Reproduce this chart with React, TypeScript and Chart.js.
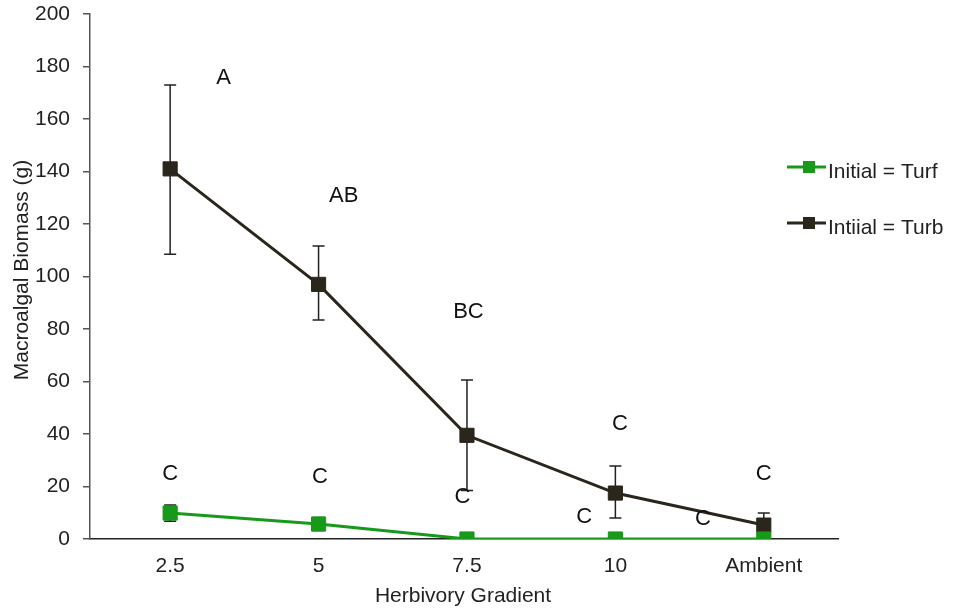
import React, { useEffect, useRef } from "react";
import { Chart, registerables } from "chart.js";

Chart.register(...registerables);

// Herbivory treatments along the x axis
const categories = ["2.5", "5", "7.5", "10", "Ambient"];

// Mean macroalgal biomass (g) with error bar bounds
const turfMeans = [9.9, 5.7, 0, 0, 0];
const turfLower = [6.8, 3.2, 0, 0, 0];
const turfUpper = [13, 8.2, 0, 0, 0];

const turbMeans = [141, 97, 39.5, 17.5, 5.3];
const turbLower = [108.5, 83.4, 18.5, 8, 1.5];
const turbUpper = [173, 111.6, 60.6, 27.8, 9.9];

// Significance letters: x position (in category units), y value, text
const letterX = [0.36, 1.17, 2.01, 3.03, 4.0, 0.0, 1.01, 1.97, 2.79, 3.59];
const letterY = [175.6, 130.6, 86.5, 43.8, 24.8, 24.8, 23.6, 16, 8.4, 7.6];
const letterText = ["A", "AB", "BC", "C", "C", "C", "C", "C", "C", "C"];

const yTicks = [0, 20, 40, 60, 80, 100, 120, 140, 160, 180, 200];

const GREEN = "#17991a";
const DARK = "#2a261b";
const FONT = "'Liberation Sans', Arial, Helvetica, sans-serif";

const errorBarPlugin = {
  id: "errorBars",
  beforeDatasetsDraw(chart: any) {
    const { ctx, scales } = chart;
    const x = scales.x;
    const y = scales.y;
    const sets = [
      { lo: turfLower, hi: turfUpper },
      { lo: turbLower, hi: turbUpper },
    ];
    ctx.save();
    ctx.strokeStyle = "#222";
    ctx.lineWidth = 1.5;
    sets.forEach((s) => {
      s.lo.forEach((lo, i) => {
        const hi = s.hi[i];
        if (hi - lo <= 0) return;
        const px = x.getPixelForValue(i);
        const py1 = y.getPixelForValue(lo);
        const py2 = y.getPixelForValue(hi);
        ctx.beginPath();
        ctx.moveTo(px, py1);
        ctx.lineTo(px, py2);
        ctx.moveTo(px - 6, py1);
        ctx.lineTo(px + 6, py1);
        ctx.moveTo(px - 6, py2);
        ctx.lineTo(px + 6, py2);
        ctx.stroke();
      });
    });
    ctx.restore();
  },
};

const annotationPlugin = {
  id: "annotations",
  afterDatasetsDraw(chart: any) {
    const { ctx, scales, chartArea } = chart;
    const x = scales.x;
    const y = scales.y;
    ctx.save();

    // significance letters
    ctx.fillStyle = "#111";
    ctx.font = `22px ${FONT}`;
    ctx.textAlign = "center";
    ctx.textBaseline = "middle";
    letterText.forEach((t, i) => {
      ctx.fillText(t, x.getPixelForValue(letterX[i]), y.getPixelForValue(letterY[i]));
    });

    // axis titles
    ctx.fillStyle = "#222";
    ctx.font = `21px ${FONT}`;
    ctx.textBaseline = "alphabetic";
    ctx.fillText("Herbivory Gradient", (chartArea.left + chartArea.right) / 2 - 1, 602);
    ctx.save();
    ctx.translate(28, 270);
    ctx.rotate(-Math.PI / 2);
    ctx.fillText("Macroalgal Biomass (g)", 0, 0);
    ctx.restore();

    // legend
    const items = [
      { label: "Initial = Turf", color: GREEN, y: 167 },
      { label: "Intiial = Turb", color: DARK, y: 223 },
    ];
    items.forEach((it) => {
      ctx.strokeStyle = it.color;
      ctx.lineWidth = 3;
      ctx.beginPath();
      ctx.moveTo(787, it.y);
      ctx.lineTo(826, it.y);
      ctx.stroke();
      ctx.fillStyle = it.color;
      ctx.fillRect(803, it.y - 6, 12, 12);
      ctx.fillStyle = "#222";
      ctx.font = `21px ${FONT}`;
      ctx.textAlign = "left";
      ctx.textBaseline = "middle";
      ctx.fillText(it.label, 828, it.y + 5);
    });
    ctx.restore();
  },
};

export default function App() {
  const canvasRef = useRef<HTMLCanvasElement | null>(null);

  useEffect(() => {
    if (!canvasRef.current) return;
    const chart = new Chart(canvasRef.current, {
      type: "line",
      data: {
        datasets: [
          {
            label: "Initial = Turf",
            data: turfMeans.map((v, i) => ({ x: i, y: v })),
            borderColor: GREEN,
            backgroundColor: GREEN,
            borderWidth: 3,
            pointStyle: "rect",
            pointRadius: 10,
            pointBorderWidth: 1,
            pointBorderColor: GREEN,
            tension: 0,
          },
          {
            label: "Intiial = Turb",
            data: turbMeans.map((v, i) => ({ x: i, y: v })),
            borderColor: DARK,
            backgroundColor: DARK,
            borderWidth: 3,
            pointStyle: "rect",
            pointRadius: 10,
            pointBorderWidth: 1,
            pointBorderColor: DARK,
            tension: 0,
          },
        ],
      },
      options: {
        animation: false,
        responsive: true,
        maintainAspectRatio: false,
        layout: { padding: { top: 14, right: 115, bottom: 0, left: 0 } },
        plugins: {
          legend: { display: false },
          tooltip: { enabled: false },
        },
        scales: {
          x: {
            type: "linear",
            min: -0.54,
            max: 4.5,
            afterBuildTicks: (s: any) => {
              s.ticks = categories.map((_, i) => ({ value: i }));
            },
            afterFit: (s: any) => {
              s.height = 74;
              s.paddingLeft = 0;
              s.paddingRight = 0;
            },
            grid: { display: false, drawTicks: false },
            border: { display: true, color: "#222", width: 1.5 },
            ticks: {
              padding: 15,
              color: "#222",
              font: { family: FONT, size: 21 },
              callback: (v: any) => categories[Math.round(Number(v))] ?? "",
              maxRotation: 0,
              autoSkip: false,
            },
          },
          y: {
            min: 0,
            max: 200,
            afterBuildTicks: (s: any) => {
              s.ticks = yTicks.map((v) => ({ value: v }));
            },
            afterFit: (s: any) => {
              s.width = 90;
              s.paddingTop = 0;
              s.paddingBottom = 0;
            },
            grid: {
              drawOnChartArea: false,
              drawTicks: true,
              tickLength: 7,
              color: "#555",
              lineWidth: 1.5,
            },
            border: { display: true, color: "#555", width: 1.5 },
            ticks: {
              padding: 13,
              color: "#222",
              font: { family: FONT, size: 21 },
            },
          },
        },
      },
      plugins: [errorBarPlugin, annotationPlugin],
    });
    return () => chart.destroy();
  }, []);

  return (
    <div
      style={{
        position: "absolute",
        left: 0,
        top: 0,
        width: 953,
        height: 613,
        background: "#fff",
      }}
    >
      <canvas ref={canvasRef} />
    </div>
  );
}
